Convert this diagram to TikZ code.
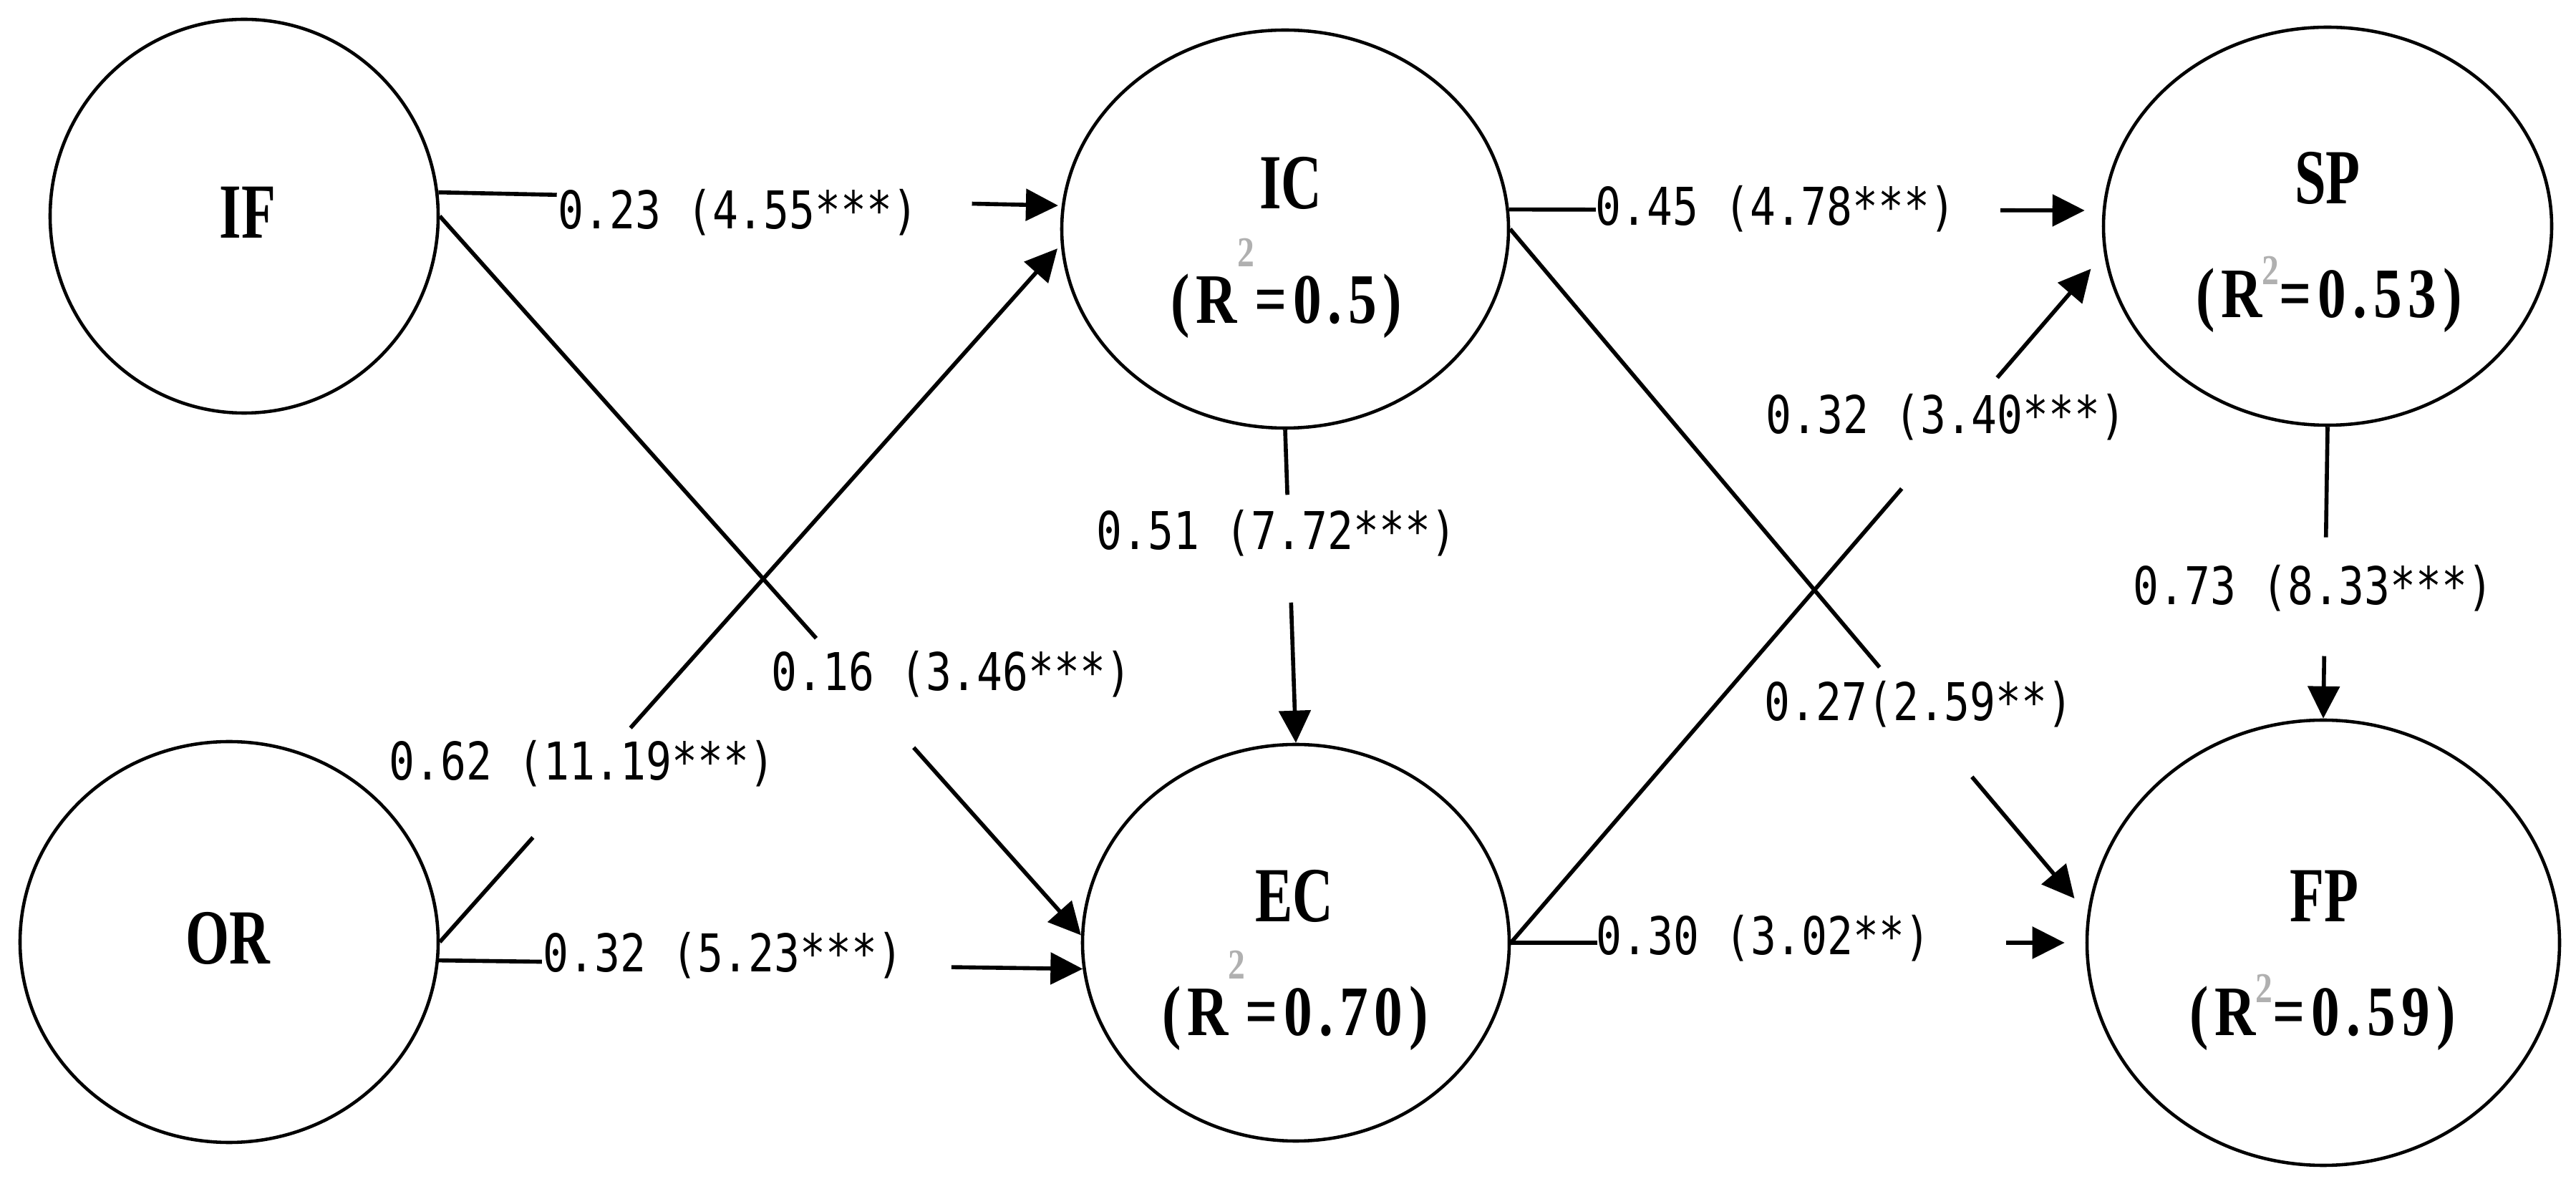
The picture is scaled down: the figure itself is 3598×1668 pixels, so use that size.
\documentclass[tikz,border=0pt]{standalone}
\usepackage{fontspec}
\usetikzlibrary{shapes.geometric,arrows.meta}
\newfontfamily\labfont[FakeStretch=0.82]{DejaVu Sans Mono}
\newfontfamily\titfont[FakeStretch=0.72]{Liberation Serif}
\newfontfamily\rsqfont[FakeStretch=0.8,LetterSpace=9]{Liberation Serif}
\definecolor{supgray}{RGB}{176,176,176}
\newcommand{\sqr}[1]{\raisebox{#1}{\scalebox{0.6}{\textcolor{supgray}{2}}}}
\tikzset{
  ell/.style={ellipse, draw=black, line width=1.3pt, inner sep=0pt, fill=white},
  conn/.style={draw=black, line width=1.6pt},
  arr/.style={conn, -{Triangle[length=4.5mm,width=4.4mm]}},
  lab/.style={inner sep=0pt, anchor=base, font=\labfont\fontsize{20.7pt}{24pt}\selectfont},
  tit/.style={inner sep=0pt, anchor=base, font=\titfont\bfseries\fontsize{31pt}{36pt}\selectfont},
  rsq/.style={inner sep=0pt, anchor=base, font=\rsqfont\bfseries\fontsize{28.2pt}{32pt}\selectfont}
}
\begin{document}
\begin{tikzpicture}[x=0.1mm,y=-0.1mm]
\useasboundingbox (0,0) rectangle (3598,1668);
\fill[white] (0,0) rectangle (3598,1668);

% latent variables
\node[ell, minimum width=54.2mm, minimum height=55mm] (IF) at (341,302) {};
\node[ell, minimum width=58.4mm, minimum height=56mm] (OR) at (320,1316) {};
\node[ell, minimum width=62.4mm, minimum height=55.6mm] (IC) at (1795,320) {};
\node[ell, minimum width=59.6mm, minimum height=55.4mm] (EC) at (1810,1317) {};
\node[ell, minimum width=62.6mm, minimum height=55.6mm] (SP) at (3251,316) {};
\node[ell, minimum width=66mm, minimum height=62.2mm] (FP) at (3245,1317) {};

\node[tit] (IFt) at (346,333) {IF};
\node[tit] (ORt) at (318,1347) {OR};
\node[tit] (ICt) at (1803,292) {IC};
\node[rsq] (ICr) at (1797,452) {(R\sqr{0.8em}=0.5)};
\node[tit] (ECt) at (1808,1288) {EC};
\node[rsq] (ECr) at (1809,1447) {(R\sqr{0.8em}=0.70)};
\node[tit] (SPt) at (3251,285) {SP};
\node[rsq] (SPr) at (3253,444) {(R\sqr{0.47em}=0.53)};
\node[tit] (FPt) at (3246,1288) {FP};
\node[rsq] (FPr) at (3244,1447) {(R\sqr{0.47em}=0.59)};

% path labels
\node[lab] (L1) at (1031,320) {0.23 (4.55***)};
\node[lab] (L2) at (1329,965) {0.16 (3.46***)};
\node[lab] (L3) at (813,1090) {0.62 (11.19***)};
\node[lab] (L4) at (1010,1358) {0.32 (5.23***)};
\node[lab] (L5) at (2480,315) {0.45 (4.78***)};
\node[lab] (L6) at (1783,768) {0.51 (7.72***)};
\node[lab] (L7) at (2680,1007) {0.27(2.59**)};
\node[lab] (L8) at (2718,606) {0.32 (3.40***)};
\node[lab] (L9) at (2463,1334) {0.30 (3.02**)};
\node[lab] (L10) at (3231,845) {0.73 (8.33***)};

% IF -> IC
\path (IF.7) -- (IC.174) coordinate[pos=0.19] (a1) coordinate[pos=0.856] (b1);
\draw[conn] (IF.7) -- (a1);
\draw[arr, shorten >=0.5mm] (b1) -- (IC.174);
% IF -> EC
\path (IF.east) -- (EC.178) coordinate[pos=0.587] (a2) coordinate[pos=0.739] (b2);
\draw[conn] (IF.east) -- (a2);
\draw[arr] (b2) -- (EC.178);
% OR -> IC
\path (OR.east) -- (IC.184) coordinate[pos=0.15] (a3) coordinate[pos=0.307] (b3);
\draw[conn] (OR.east) -- (a3);
\draw[arr, shorten >=0.7mm] (b3) -- (IC.184);
% OR -> EC
\path (OR.-5) -- (EC.187) coordinate[pos=0.16] (a4) coordinate[pos=0.796] (b4);
\draw[conn] (OR.-5) -- (a4);
\draw[arr] (b4) -- (EC.187);
% IC -> SP
\path (IC.5) -- (SP.176) coordinate[pos=0.146] (a5) coordinate[pos=0.828] (b5);
\draw[conn] (IC.5) -- (a5);
\draw[arr, shorten >=2.5mm] (b5) -- (SP.176);
% IC -> EC
\path (IC.south) -- (EC.north) coordinate[pos=0.208] (a6) coordinate[pos=0.552] (b6);
\draw[conn] (IC.south) -- (a6);
\draw[arr] (b6) -- (EC.north);
% IC -> FP
\path (IC.east) -- (FP.173) coordinate[pos=0.64] (a7) coordinate[pos=0.80] (b7);
\draw[conn] (IC.east) -- (a7);
\draw[arr, shorten >=2.8mm] (b7) -- (FP.173);
% EC -> SP
\path (EC.east) -- (SP.187) coordinate[pos=0.659] (a8) coordinate[pos=0.82] (b8);
\draw[conn] (EC.east) -- (a8);
\draw[arr, shorten >=2.8mm] (b8) -- (SP.187);
% EC -> FP
\path (EC.east) -- (FP.west) coordinate[pos=0.15] (a9) coordinate[pos=0.862] (b9);
\draw[conn] (EC.east) -- (a9);
\draw[arr, shorten >=2.9mm] (b9) -- (FP.west);
% SP -> FP
\path (SP.south) -- (FP.north) coordinate[pos=0.379] (a10) coordinate[pos=0.786] (b10);
\draw[conn] (SP.south) -- (a10);
\draw[arr] (b10) -- (FP.north);
\end{tikzpicture}
\end{document}
